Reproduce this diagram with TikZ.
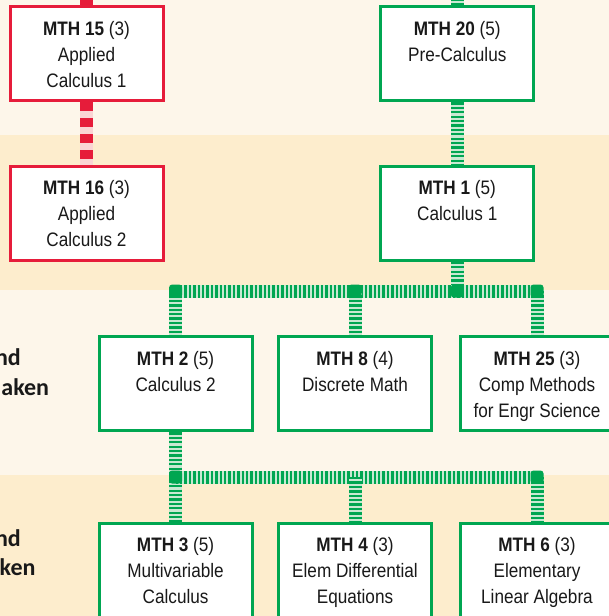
\documentclass[tikz,border=0pt]{standalone}
\usepackage{fontspec}
\setmainfont{Liberation Sans}[FakeStretch=0.88]
\newfontfamily\lblfont{Carlito}
\definecolor{bgA}{RGB}{253,246,234}
\definecolor{bgB}{RGB}{253,237,205}
\definecolor{gdark}{RGB}{0,166,81}
\definecolor{gpale}{RGB}{200,233,210}
\definecolor{rdark}{RGB}{230,28,58}
\definecolor{rpale}{RGB}{250,212,212}
\definecolor{ink}{RGB}{25,25,25}
\newcommand\crs[3]{\parbox[c][94pt][t]{153pt}{\centering\rule{0pt}{28.2pt}\textbf{#1} #2\\#3\par}}
\tikzset{
  course/.style={draw, line width=3pt, fill=white, inner sep=0pt, text=ink, font=\fontsize{19.5}{26}\selectfont},
  gcourse/.style={course, draw=gdark},
  rcourse/.style={course, draw=rdark},
  glink/.style={draw=gpale, line width=13pt, postaction={draw=gdark, line width=13pt, dash pattern=on 2.3pt off 2.1pt}},
  rlink/.style={draw=rpale, line width=13.5pt, postaction={draw=rdark, line width=13.5pt, dash pattern=on 8.3pt off 7.7pt}},
  joint/.style={fill=gdark, rounded corners=3pt},
  side/.style={font=\lblfont\bfseries\fontsize{24}{30}\selectfont, text=ink, inner sep=0pt, anchor=base east},
}
\begin{document}
\begin{tikzpicture}[x=1pt, y=-1pt]
\useasboundingbox (0,0) rectangle (609,616);
\clip (0,0) rectangle (609,616);
% bands
\fill[bgA] (0,0) rectangle (609,135);
\fill[bgB] (0,135) rectangle (609,290);
\fill[bgA] (0,290) rectangle (609,475);
\fill[bgB] (0,475) rectangle (609,616);
% courses
\node[rcourse] (m15) at (86.5,53.8) {\crs{MTH 15}{(3)}{Applied\\Calculus 1}};
\node[gcourse] (m20) at (457.3,53.8) {\crs{MTH 20}{(5)}{Pre-Calculus}};
\node[rcourse] (m16) at (86.5,213.2) {\crs{MTH 16}{(3)}{Applied\\Calculus 2}};
\node[gcourse] (m1) at (457.3,213.2) {\crs{MTH 1}{(5)}{Calculus 1}};
\node[gcourse] (m2) at (175.6,383.8) {\crs{MTH 2}{(5)}{Calculus 2}};
\node[gcourse] (m8) at (355,383.8) {\crs{MTH 8}{(4)}{Discrete Math}};
\node[gcourse] (m25) at (537,383.8) {\crs{MTH 25}{(3)}{Comp Methods\\for Engr Science}};
\node[gcourse] (m3) at (175.6,570.2) {\crs{MTH 3}{(5)}{Multivariable\\Calculus}};
\node[gcourse] (m4) at (355,570.2) {\crs{MTH 4}{(3)}{Elem Differential\\Equations}};
\node[gcourse] (m6) at (537,570.2) {\crs{MTH 6}{(3)}{Elementary\\Linear Algebra}};
% side labels (cut off at the left edge, as in the reference)
\node[side] (s1) at (21,365) {nd};
\node[side] (s2) at (49.3,395.7) {aken};
\node[side] (s3) at (21,546.7) {nd};
\node[side] (s4) at (35.7,575) {ken};
% coordinates
\coordinate (top15) at (86.5,-1);
\coordinate (top20) at (457.3,-1);
\coordinate (u1) at (175.6,291);
\coordinate (u2) at (355,291);
\coordinate (uj) at (457.3,291);
\coordinate (u3) at (537,291);
\coordinate (l1) at (175.6,477);
\coordinate (l2) at (355,477);
\coordinate (l3) at (537,477);
% connectors
\draw[rlink] (m15.north) -- (top15);
\draw[rlink] (m15.south) -- (m16.north);
\draw[glink] (m20.north) -- (top20);
\draw[glink] (m20.south) -- (m1.north);
\draw[glink] (m1.south) -- (uj);
\draw[glink] (u1) -- (u3);
\draw[glink] (u1) -- (m2.north);
\draw[glink] (u2) -- (m8.north);
\draw[glink] (u3) -- (m25.north);
\draw[glink] (m2.south) -- (m3.north);
\draw[glink] (l1) -- (l3);
\draw[glink] (l2) -- (m4.north);
\draw[glink] (l3) -- (m6.north);
% joints
\fill[joint] (u1) ++(-6.5,-6.5) rectangle ++(13,13);
\fill[joint] (u2) ++(-6.5,-6.5) rectangle ++(13,13);
\fill[joint] (uj) ++(-6.5,-6.5) rectangle ++(13,13);
\fill[joint] (u3) ++(-6.5,-6.5) rectangle ++(13,13);
\fill[joint] (l1) ++(-6.5,-6.5) rectangle ++(13,13);
\fill[joint] (l3) ++(-6.5,-6.5) rectangle ++(13,13);
\end{tikzpicture}
\end{document}
